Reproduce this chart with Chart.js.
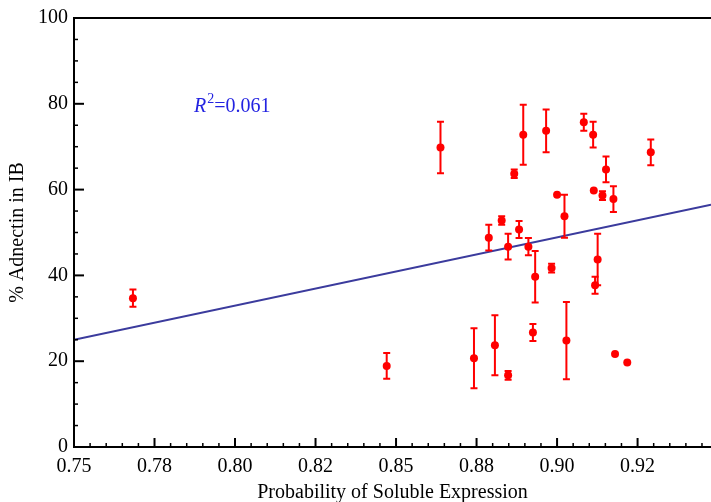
<!DOCTYPE html>
<html>
<head>
<meta charset="utf-8">
<script src="https://cdn.jsdelivr.net/npm/chart.js@4.4.1/dist/chart.umd.min.js"></script>
<style>
  html, body { margin: 0; padding: 0; background: #fff; }
  #wrap { width: 711px; height: 502px; }
</style>
</head>
<body>
<div id="wrap"><canvas id="myChart" width="711" height="502"></canvas></div>
<script>
// datos
const probSoluble = [0.7683, 0.8471, 0.8638, 0.8742, 0.8788, 0.8807, 0.8828, 0.8848, 0.8848, 0.8867,
                     0.8882, 0.8895, 0.8911, 0.8925, 0.8932, 0.8966, 0.8983, 0.9000, 0.9023, 0.9029,
                     0.9083, 0.9112, 0.9114, 0.9126, 0.9118, 0.9141, 0.9152, 0.9175, 0.9180, 0.9218,
                     0.9291];
const adnectinIB = [34.7, 18.9, 69.8, 20.7, 48.8, 23.7, 52.8, 46.7, 16.7, 63.7,
                    50.7, 72.8, 46.7, 26.7, 39.7, 73.7, 41.7, 58.8, 53.8, 24.8,
                    75.7, 72.8, 59.8, 43.7, 37.7, 58.6, 64.7, 57.8, 21.7, 19.7,
                    68.7];
const errorIB = [2, 3, 6, 7, 3, 7, 1, 3, 1, 1,
                 2, 7, 2, 2, 6, 5, 1, 0, 5, 9,
                 2, 3, 0, 6, 2, 1, 3, 3, 0, 0,
                 3];
// recta de regresion
const lineaX = [0.75, 0.9478];
const lineaY = [25.0, 56.5];
const xTickLabels = ['0.75', '0.78', '0.80', '0.82', '0.85', '0.88', '0.90', '0.92'];
const yTickLabels = ['0', '20', '40', '60', '80', '100'];
const textoR2 = '=0.061';

const fuente = "'Liberation Serif', 'DejaVu Serif', serif";
let myChart;

// barras de error
const barrasError = {
    id: 'barrasError',
    afterDatasetsDraw(chart) {
        const ctx = chart.ctx;
        const xs = chart.scales.x;
        const ys = chart.scales.y;
        ctx.save();
        ctx.strokeStyle = '#ff0000';
        ctx.lineWidth = 2;
        for (let i = 0; i < probSoluble.length; i++) {
            if (!errorIB[i]) continue;
            const px = xs.getPixelForValue(probSoluble[i]);
            const arriba = ys.getPixelForValue(adnectinIB[i] + errorIB[i]);
            const abajo = ys.getPixelForValue(adnectinIB[i] - errorIB[i]);
            ctx.beginPath();
            ctx.moveTo(px, arriba); ctx.lineTo(px, abajo);
            ctx.moveTo(px - 3.5, arriba); ctx.lineTo(px + 3.5, arriba);
            ctx.moveTo(px - 3.5, abajo); ctx.lineTo(px + 3.5, abajo);
            ctx.stroke();
        }
        ctx.restore();
    }
};

// marco y marcas de los ejes (hacia adentro)
const marco = {
    id: 'marco',
    afterDraw(chart) {
        const ctx = chart.ctx;
        const a = chart.chartArea;
        const xs = chart.scales.x;
        const ys = chart.scales.y;
        ctx.save();
        ctx.strokeStyle = '#000';
        ctx.lineWidth = 2;
        ctx.beginPath();
        ctx.moveTo(a.left, a.top); ctx.lineTo(chart.width, a.top);
        ctx.moveTo(a.left, a.top - 1); ctx.lineTo(a.left, a.bottom);
        ctx.lineTo(chart.width, a.bottom);
        ctx.stroke();

        xs.ticks.forEach(function (t, i) {
            const px = xs.getPixelForValue(t.value);
            const mayor = i % 5 === 0;
            ctx.lineWidth = mayor ? 2 : 1.5;
            ctx.beginPath();
            ctx.moveTo(px, a.bottom);
            ctx.lineTo(px, a.bottom - (mayor ? 9 : 4));
            ctx.stroke();
        });
        ys.ticks.forEach(function (t, i) {
            const py = ys.getPixelForValue(t.value);
            const mayor = i % 4 === 0;
            ctx.lineWidth = mayor ? 2 : 1.5;
            ctx.beginPath();
            ctx.moveTo(a.left, py);
            ctx.lineTo(a.left + (mayor ? 10 : 4), py);
            ctx.stroke();
        });
        ctx.restore();
    }
};

// texto R^2
const textoR = {
    id: 'textoR',
    afterDraw(chart) {
        const ctx = chart.ctx;
        const a = chart.chartArea;
        let x = a.left + 120;
        const y = a.top + 94;
        ctx.save();
        ctx.fillStyle = '#2323e1';
        ctx.textBaseline = 'alphabetic';
        ctx.font = 'italic 20px ' + fuente;
        ctx.fillText('R', x, y);
        x += ctx.measureText('R').width + 1;
        ctx.font = '14px ' + fuente;
        ctx.fillText('2', x, y - 9);
        x += ctx.measureText('2').width;
        ctx.font = '20px ' + fuente;
        ctx.fillText(textoR2, x, y);
        ctx.restore();
    }
};

function generarGrafica() {
    const ctx = document.getElementById('myChart').getContext('2d');
    if (myChart) {
        myChart.destroy();
    }
    myChart = new Chart(ctx, {
        type: 'scatter',
        data: {
            datasets: [{
                label: 'Adnectin',
                data: probSoluble.map((x, i) => ({ x: x, y: adnectinIB[i] })),
                backgroundColor: '#ff0000',
                borderColor: '#ff0000',
                pointRadius: 4,
                pointBorderWidth: 0,
                order: 1
            }, {
                label: 'Regresion',
                data: lineaX.map((x, i) => ({ x: x, y: lineaY[i] })),
                showLine: true,
                borderColor: '#3b3b9d',
                borderWidth: 2,
                pointRadius: 0,
                order: 2
            }]
        },
        options: {
            responsive: false,
            animation: false,
            devicePixelRatio: 1,
            layout: { autoPadding: false, padding: { top: 16, right: 0, left: 0, bottom: 0 } },
            plugins: {
                legend: { display: false },
                tooltip: { enabled: false }
            },
            scales: {
                x: {
                    type: 'linear',
                    min: 0.75,
                    max: 0.9478,
                    grid: { display: false, drawTicks: false },
                    border: { display: false },
                    afterBuildTicks: function (scale) {
                        const t = [];
                        for (let i = 0; i < 40; i++) {
                            const v = 0.75 + i * 0.005;
                            if (v <= 0.9478) t.push({ value: v });
                        }
                        scale.ticks = t;
                    },
                    afterFit: function (scale) { scale.height = 55; },
                    ticks: {
                        autoSkip: false,
                        maxRotation: 0,
                        padding: 8,
                        color: '#000',
                        font: { family: fuente, size: 20 },
                        callback: function (v, i) {
                            return i % 5 === 0 ? xTickLabels[i / 5] : '';
                        }
                    },
                    title: {
                        display: true,
                        text: 'Probability of Soluble Expression',
                        color: '#000',
                        font: { family: fuente, size: 20, lineHeight: 1 },
                        padding: { top: 0, bottom: -1 }
                    }
                },
                y: {
                    min: 0,
                    max: 100,
                    grid: { display: false, drawTicks: false },
                    border: { display: false },
                    afterBuildTicks: function (scale) {
                        const t = [];
                        for (let v = 0; v <= 100; v += 5) t.push({ value: v });
                        scale.ticks = t;
                    },
                    afterFit: function (scale) { scale.width = 74; },
                    ticks: {
                        autoSkip: false,
                        padding: 6,
                        color: '#000',
                        font: { family: fuente, size: 20 },
                        callback: function (v, i) {
                            return i % 4 === 0 ? yTickLabels[i / 4] : '';
                        }
                    },
                    title: {
                        display: true,
                        text: '% Adnectin in IB',
                        color: '#000',
                        font: { family: fuente, size: 20 },
                        padding: { top: 6, bottom: 0 }
                    }
                }
            }
        },
        plugins: [barrasError, marco, textoR]
    });
}

generarGrafica();
</script>
</body>
</html>
